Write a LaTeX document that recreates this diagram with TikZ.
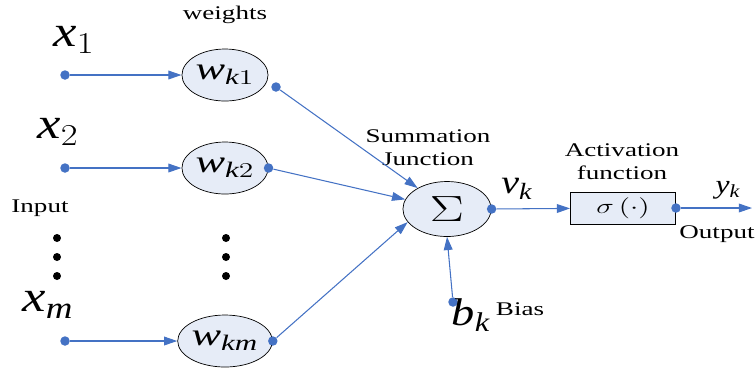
\documentclass[tikz,border=0pt]{standalone}
\usepackage{fontspec}
\setmainfont{Liberation Serif}
\usetikzlibrary{shapes.geometric, arrows.meta, positioning}
\definecolor{linkblue}{HTML}{4472C4}
\definecolor{cellfill}{HTML}{E6ECF7}

\begin{document}
\begin{tikzpicture}[x=0.02cm, y=-0.02cm,
	wide/.style={xscale=1.4, transform shape},
	lbl/.style={wide, font=\fontsize{11}{13}\selectfont, align=center, inner sep=0pt},
	var/.style={xscale=1.2, transform shape, inner sep=0pt},
	cell/.style={ellipse, draw=black, fill=cellfill, wide, minimum width=1.23cm, minimum height=1.04cm, inner sep=0pt},
	dot/.style={circle, fill=linkblue, inner sep=0pt, minimum size=0.19cm},
	bigdot/.style={circle, fill=black, inner sep=0pt, minimum size=0.16cm},
	arr/.style={linkblue, line width=0.6pt, -{Triangle[length=7.5pt, width=5pt]}}]
	\useasboundingbox (0,0) rectangle (756,370);
	% ---------- inputs and weights ----------
	\node[cell] (w1) at (225,75) {\fontsize{18}{18}\selectfont $\mathit{w}_{\mathit{k}1}$};
	\node[cell] (w2) at (225,168) {\fontsize{18}{18}\selectfont $\mathit{w}_{\mathit{k}2}$};
	\node[cell] (wm) at (225,341) {\fontsize{18}{18}\selectfont $\mathit{w}_{\mathit{km}}$};
	\node[dot] (i1) at (65,75) {};
	\node[dot] (i2) at (65,168) {};
	\node[dot] (im) at (65,341) {};
	\node[dot] (o1) at (276,87) {};
	\node[dot] (o2) at (w2.east) {};
	\node[dot] (om) at (wm.east) {};
	\node[var] (x1) at (74,40) {\fontsize{25}{25}\selectfont $\mathit{x}_1$};
	\node[var] (x2) at (58,132) {\fontsize{25}{25}\selectfont $\mathit{x}_2$};
	\node[var] (xm) at (48,305) {\fontsize{25}{25}\selectfont $\mathit{x}_\mathit{m}$};
	\node[lbl] (weights) at (225,15) {weights};
	\node[lbl] (input) at (40,208) {Input};
	\foreach \y/\n in {238/a, 257/b, 276/c}
	{
		\node[bigdot] (ld\n) at (57,\y) {};
		\node[bigdot] (md\n) at (226,\y) {};
	}
	\draw[arr] (i1) -- (w1);
	\draw[arr] (i2) -- (w2);
	\draw[arr] (im) -- (wm);
	% ---------- summation junction ----------
	\node[cell, minimum width=1.26cm, minimum height=1.1cm] (sum) at (447,209)
	{\fontsize{21}{21}\selectfont $\Sigma$};
	\node[lbl] (sumlab) at (428,148) {Summation\\Junction};
	\draw[arr] (o1) -- (sum);
	\draw[arr] (o2) -- (sum);
	\draw[arr] (om) -- (sum.205);
	% bias
	\node[dot] (bias) at (453,302) {};
	\node[var] (bk) at (471,315) {\fontsize{22}{22}\selectfont $\mathit{b}_\mathit{k}$};
	\node[lbl] (biaslab) at (520,309) {Bias};
	\draw[arr] (bias) -- (sum.south);
	% ---------- activation and output ----------
	\node[dot] (sout) at (sum.east) {};
	\node[var] (vk) at (517,189) {\fontsize{19}{19}\selectfont $\mathit{v}_\mathit{k}$};
	\node[rectangle, draw=black, fill=cellfill, wide, minimum width=1.5cm, minimum height=0.64cm, inner sep=0pt]
	(act) at (623,208) {\fontsize{13}{13}\selectfont $\sigma\,(\cdot)$\hspace{9pt}};
	\node[lbl] (actlab) at (622,162) {Activation\\function};
	\draw[arr] (sout) -- (act);
	\node[dot] (aout) at (act.east) {};
	\coordinate (yend) at (752,208);
	\draw[arr] (aout) -- (yend);
	\node[var] (yk) at (728,190) {\fontsize{15}{15}\selectfont $\mathit{y}_\mathit{k}$};
	\node[lbl] (outlab) at (717,234) {Output};
\end{tikzpicture}
\end{document}
